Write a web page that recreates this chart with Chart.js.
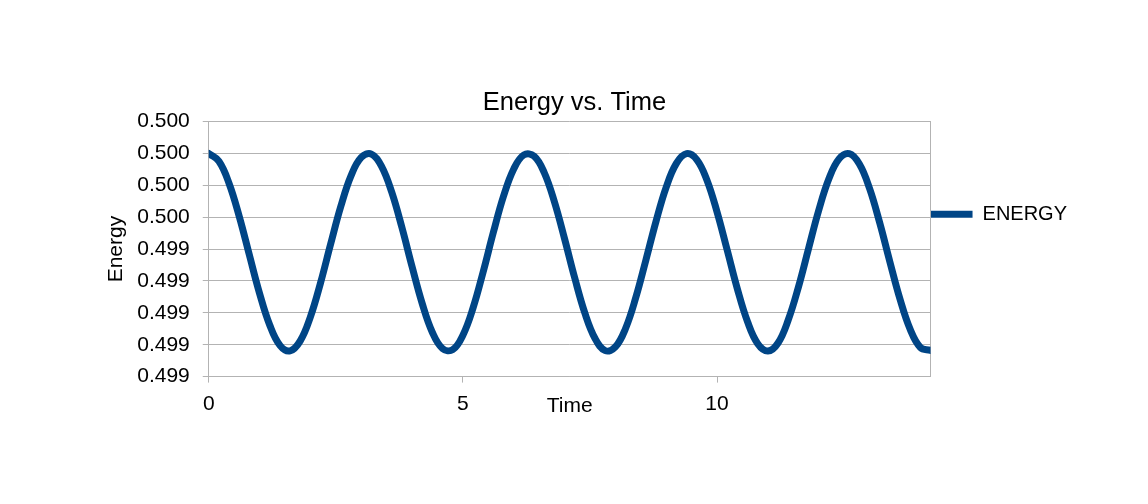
<!DOCTYPE html>
<html>
<head>
<meta charset="utf-8">
<style>
  html, body { margin: 0; padding: 0; background: #ffffff; }
  #wrap { width: 1148px; height: 504px; }
</style>
<script src="https://cdn.jsdelivr.net/npm/chart.js@4.4.1/dist/chart.umd.min.js"></script>
</head>
<body>
<div id="wrap"><canvas id="energyChart" width="1148" height="504"></canvas></div>
<script>
"use strict";
const seriesName = "ENERGY";
const times = [
    0.0, 0.2, 0.4, 0.6, 0.8, 1.0, 1.2, 1.4, 1.6, 1.8,
    2.0, 2.2, 2.4, 2.6, 2.8, 3.0, 3.2, 3.4, 3.6, 3.8,
    4.0, 4.2, 4.4, 4.6, 4.8, 5.0, 5.2, 5.4, 5.6, 5.8,
    6.0, 6.2, 6.4, 6.6, 6.8, 7.0, 7.2, 7.4, 7.6, 7.8,
    8.0, 8.2, 8.4, 8.6, 8.8, 9.0, 9.2, 9.4, 9.6, 9.8,
    10.0, 10.2, 10.4, 10.6, 10.8, 11.0, 11.2, 11.4, 11.6, 11.8,
    12.0, 12.2, 12.4, 12.6, 12.8, 13.0, 13.2, 13.4, 13.6, 13.8,
    14.0, 14.2
];
const energy = [
    0.500000, 0.499951, 0.499812, 0.499605, 0.499362, 0.499122, 0.498923, 0.498796, 0.498761, 0.498824,
    0.498975, 0.499189, 0.499434, 0.499670, 0.499861, 0.499975, 0.499996, 0.499919, 0.499757, 0.499536,
    0.499290, 0.499058, 0.498877, 0.498776, 0.498769, 0.498860, 0.499031, 0.499259, 0.499506, 0.499733,
    0.499903, 0.499991, 0.499983, 0.499880, 0.499697, 0.499465, 0.499219, 0.498998, 0.498839, 0.498763,
    0.498786, 0.498902, 0.499094, 0.499331, 0.499575, 0.499789, 0.499938, 0.499999, 0.499962, 0.499834,
    0.499633, 0.499393, 0.499150, 0.498944, 0.498806, 0.498760, 0.498811, 0.498955, 0.499161, 0.499403,
    0.499643, 0.499841, 0.499966, 0.499999, 0.499934, 0.499781, 0.499565, 0.499320, 0.499085, 0.498896,
    0.498783, 0.498765
];
const xTickValues = [0, 5, 10];
const yTickValues = [0.4986, 0.4988, 0.4990, 0.4992, 0.4994, 0.4996, 0.4998, 0.5000, 0.5002];
const xRange = [0, 14.2];

const lineColor = "#004586"; // libreoffice blue
const gridColor = "#b3b3b3";
const fontFamily = "'Liberation Sans', Arial, sans-serif";

Chart.defaults.color = "#000000";
Chart.defaults.font.family = fontFamily;

// pair up time + energy for the linear x axis
const points = times.map((t, i) => ({ x: t, y: energy[i] }));

const chart = new Chart("energyChart", {
    type: "line",
    data: {
        datasets: [{
            label: seriesName,
            data: points,
            borderColor: lineColor,
            backgroundColor: lineColor,
            borderWidth: 7,
            borderCapStyle: "round",
            borderJoinStyle: "round",
            pointRadius: 0,
            tension: 0.4,
            clip: 0
        }]
    },
    options: {
        responsive: false,
        animation: false,
        devicePixelRatio: 1,
        layout: {
            padding: { left: 72, right: 71, top: 0, bottom: 85 }
        },
        plugins: {
            title: {
                display: true,
                text: "Energy vs. Time",
                color: "#000000",
                font: { size: 25.5, weight: "normal" },
                padding: { top: 88, bottom: 3 }
            },
            legend: {
                position: "right",
                align: "start",
                // empty title just pushes the entry down next to the plot
                title: {
                    display: true,
                    text: "",
                    font: { size: 1 },
                    padding: { top: 203, bottom: 0 }
                },
                labels: {
                    usePointStyle: true,
                    pointStyle: "line",
                    pointStyleWidth: 42,
                    padding: 0,
                    color: "#000000",
                    font: { size: 20 }
                }
            },
            tooltip: { enabled: false }
        },
        scales: {
            x: {
                type: "linear",
                min: xRange[0],
                max: xRange[1],
                afterBuildTicks: (axis) => {
                    axis.ticks = xTickValues.map(v => ({ value: v }));
                },
                grid: {
                    drawOnChartArea: false,
                    drawTicks: true,
                    tickLength: 6,
                    color: gridColor
                },
                border: { color: gridColor },
                ticks: {
                    padding: 9,
                    maxRotation: 0,
                    color: "#000000",
                    font: { size: 21 }
                },
                title: {
                    display: true,
                    text: "Time",
                    color: "#000000",
                    font: { size: 21 },
                    padding: { top: -32, bottom: 0 }
                }
            },
            y: {
                min: yTickValues[0],
                max: yTickValues[yTickValues.length - 1],
                afterBuildTicks: (axis) => {
                    axis.ticks = yTickValues.map(v => ({ value: v }));
                },
                grid: {
                    color: gridColor,
                    tickLength: 6
                },
                border: { color: gridColor },
                ticks: {
                    padding: 13,
                    color: "#000000",
                    font: { size: 21 },
                    callback: (v) => Number(v).toFixed(3)
                },
                title: {
                    display: true,
                    text: "Energy",
                    color: "#000000",
                    font: { size: 21 },
                    padding: { top: 32, bottom: -5 }
                }
            },
            // only here to draw the right edge of the plot frame
            yRight: {
                position: "right",
                grid: { drawOnChartArea: false, drawTicks: false },
                border: { color: gridColor },
                ticks: { display: false }
            }
        }
    }
});
</script>
</body>
</html>
